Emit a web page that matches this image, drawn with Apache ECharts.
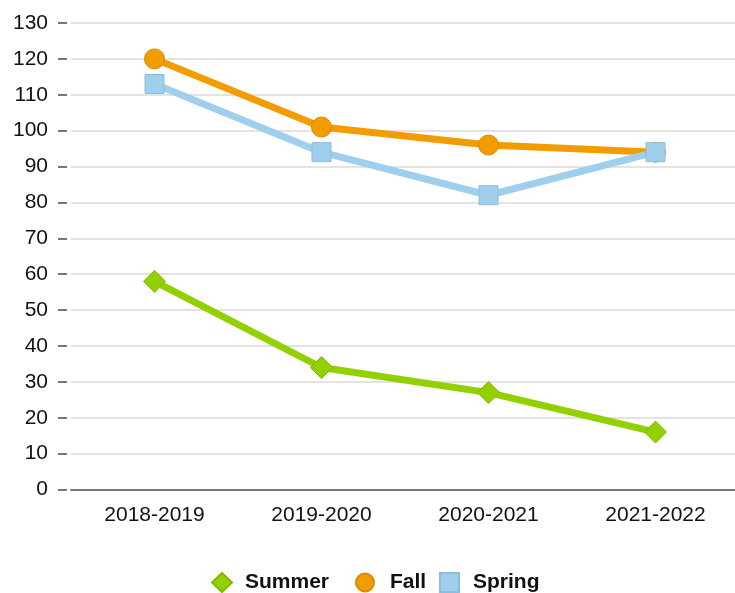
<!DOCTYPE html>
<html><head><meta charset="utf-8">
<script src="https://cdn.jsdelivr.net/npm/echarts@6/dist/echarts.min.js"></script>
<style>html,body{margin:0;padding:0;background:#fff}#c{width:735px;height:593px}</style>
</head><body><div id="c"></div>
<script>
const categories = ['2018-2019', '2019-2020', '2020-2021', '2021-2022'];
const summer = [58, 34, 27, 16];
const fall = [120, 101, 96, 94];
const spring = [113, 94, 82, 94];

const chart = echarts.init(document.getElementById('c'));
const font = 'Liberation Sans, Arial, sans-serif';
function line(name, data, color, border, symbol, size) {
  return {
    name, type: 'line', data, symbol, symbolSize: size,
    lineStyle: { color, width: 7 },
    itemStyle: { color, borderColor: border, borderWidth: 1 },
    emphasis: { disabled: true }
  };
}
function legend(name, icon, left, w, h, pad) {
  return {
    left, top: 567, itemWidth: w, itemHeight: h, selectedMode: false,
    textStyle: { fontSize: 21, fontWeight: 'bold', color: '#111', fontFamily: font, padding: [0, 0, 0, pad] },
    data: [{ name, icon }]
  };
}
chart.setOption({
  animation: false,
  textStyle: { fontFamily: font },
  grid: { left: 71, top: 23, width: 668, bottom: 103.5, containLabel: false, outerBoundsMode: 'none' },
  legend: [
    legend('Summer', 'diamond', 206, 20, 19, 8),
    legend('Fall', 'circle', 350, 18, 18, 11),
    legend('Spring', 'rect', 434, 19, 19, 9)
  ],
  xAxis: {
    type: 'category', data: categories, boundaryGap: true,
    axisLine: { lineStyle: { color: '#777', width: 2 } },
    axisTick: { alignWithLabel: true, length: 7, lineStyle: { color: '#777', width: 2 } },
    axisLabel: { fontSize: 21, color: '#111', margin: 15, fontFamily: font }
  },
  yAxis: {
    type: 'value', min: 0, max: 130, interval: 10, offset: 4,
    axisLine: { show: false },
    axisTick: { show: true, length: 9, lineStyle: { color: '#777', width: 2 } },
    axisLabel: { fontSize: 21, color: '#111', margin: 19, fontFamily: font },
    splitLine: { lineStyle: { color: '#e3e3e3', width: 2 } }
  },
  series: [
    line('Summer', summer, '#93d000', '#7fb800', 'diamond', 22),
    line('Fall', fall, '#f39c00', '#d98a00', 'circle', 20),
    line('Spring', spring, '#9fcfed', '#8bbddc', 'rect', 19)
  ]
});
</script></body></html>
